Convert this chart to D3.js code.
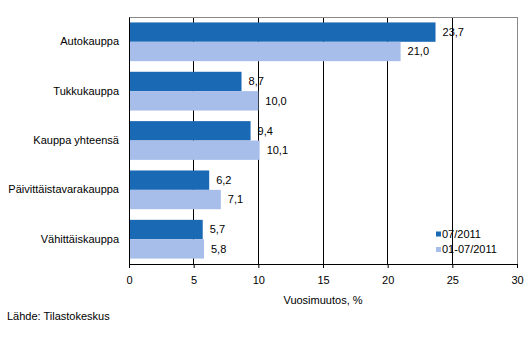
<!DOCTYPE html>
<html><head><meta charset="utf-8">
<script src="https://cdn.jsdelivr.net/npm/d3@7"></script>
<style>body{margin:0;background:#fff}svg{display:block;font-family:Arial,"Liberation Sans",sans-serif}</style>
</head><body><svg id="c" width="532" height="358"></svg>
<script>
const categories = ["Autokauppa","Tukkukauppa","Kauppa yhteensä","Päivittäistavarakauppa","Vähittäiskauppa"];
const seriesNames = ["07/2011","01-07/2011"];
const s1 = [23.7, 8.7, 9.4, 6.2, 5.7];
const s2 = [21.0, 10.0, 10.1, 7.1, 5.8];
const xTicks = [0,5,10,15,20,25,30];
const colors = ["#1a69b4","#a7bdea"];

const svg = d3.select("#c");
const m = {l:129, r:517, t:17, b:264};
const x = d3.scaleLinear().domain([0,30]).range([m.l, m.r]);
const y = d3.scaleBand().domain(categories).range([m.t, m.b]).paddingInner(0.215).paddingOuter(0.11);
const ys = d3.scaleBand().domain([0,1]).range([0, y.bandwidth()]);
const fmt = v => d3.format(".1f")(v).replace(".", ",");

// gridlines
svg.append("g").selectAll("line").data(xTicks.slice(1,-1)).join("line")
  .attr("x1", d=>x(d)).attr("x2", d=>x(d)).attr("y1", m.t).attr("y2", m.b)
  .attr("stroke","#000").attr("stroke-width",1).attr("shape-rendering","crispEdges");

// border top/right
svg.append("path").attr("d",`M${m.l},${m.t}H${m.r}V${m.b}`).attr("fill","none")
  .attr("stroke","#888").attr("shape-rendering","crispEdges");

const data = [s1, s2];
data.forEach((s, si) => {
  svg.append("g").selectAll("rect").data(s).join("rect")
    .attr("x", x(0)).attr("y", (d,i)=>y(categories[i]) + ys(si))
    .attr("width", d=>x(d)-x(0)).attr("height", ys.bandwidth())
    .attr("fill", colors[si]);
  svg.append("g").selectAll("text").data(s).join("text")
    .attr("x", d=>x(d)+7).attr("y", (d,i)=>y(categories[i]) + ys(si) + ys.bandwidth()/2)
    .attr("dy","0.35em").attr("font-size",11).attr("fill","#000").text(fmt);
});

// axes
const xAxis = d3.axisBottom(x).tickValues(xTicks).tickSize(4).tickPadding(8).tickFormat(d3.format("d"));
const gx = svg.append("g").attr("transform",`translate(0,${m.b})`).call(xAxis);
gx.select(".domain").attr("stroke","#000");
gx.selectAll(".tick line").attr("stroke","#000");
gx.selectAll("text").attr("font-size",11).attr("font-family","Arial,'Liberation Sans',sans-serif").attr("fill","#000");

const yAxis = d3.axisLeft(y).tickSize(0).tickPadding(10);
const gy = svg.append("g").attr("transform",`translate(${m.l},0)`).call(yAxis);
gy.select(".domain").attr("stroke","#000");
gy.selectAll("text").attr("font-size",11).attr("font-family","Arial,'Liberation Sans',sans-serif").attr("fill","#000");

svg.append("text").attr("x",(m.l+m.r)/2).attr("y",300).attr("dy","0.35em")
  .attr("text-anchor","middle").attr("font-size",11).text("Vuosimuutos, %");
svg.append("text").attr("x",7).attr("y",316).attr("dy","0.35em")
  .attr("font-size",11).text("Lähde: Tilastokeskus");

// legend
const lg = svg.append("g");
seriesNames.forEach((n,i) => {
  const yy = 234 + i*15.5;
  lg.append("rect").attr("x",436).attr("y",yy-2.5).attr("width",5).attr("height",5).attr("fill",colors[i]);
  lg.append("text").attr("x",442).attr("y",yy).attr("dy","0.35em").attr("font-size",11).text(n);
});
</script></body></html>
